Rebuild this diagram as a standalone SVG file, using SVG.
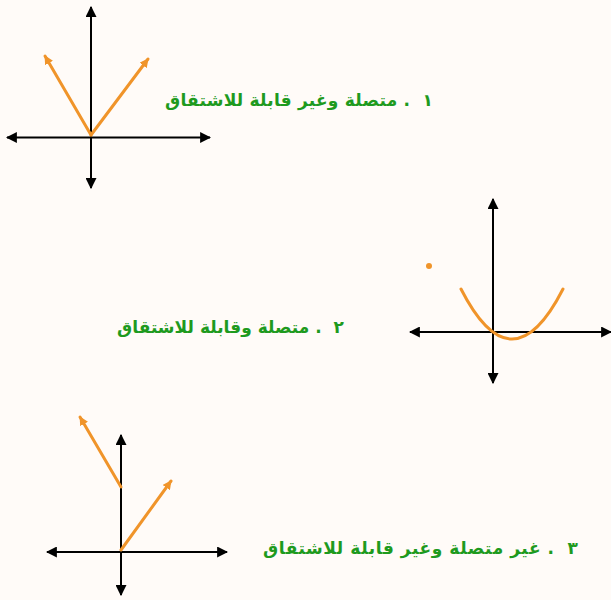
<svg xmlns="http://www.w3.org/2000/svg" width="611" height="600" viewBox="0 0 611 600">
<defs>
<marker id="ah" viewBox="0 0 10 10" refX="9" refY="5" markerWidth="5.5" markerHeight="5.5" orient="auto-start-reverse" markerUnits="strokeWidth">
<path d="M0,0 L10,5 L0,10 z" fill="#000"/>
</marker>
<marker id="oh" viewBox="0 0 10 10" refX="9" refY="5" markerWidth="3" markerHeight="3" orient="auto" markerUnits="strokeWidth">
<path d="M0,0 L10,5 L0,10 z" fill="#F0942A"/>
</marker>
<style>
.ax{stroke:#000;stroke-width:2;fill:none;marker-start:url(#ah);marker-end:url(#ah)}
.cv{stroke:#F0942A;stroke-width:3;fill:none;stroke-linecap:round}
.ar{marker-end:url(#oh)}
.lb{font-family:"DejaVu Sans",sans-serif;font-weight:bold;font-size:17px;fill:#1E9A1E;direction:rtl;unicode-bidi:embed;text-anchor:start;white-space:pre}
</style>
</defs>
<rect width="611" height="600" fill="#FFFBF8"/>
<g id="graph1">
<line class="ax" x1="91" y1="7" x2="91" y2="188"/>
<line class="ax" x1="7" y1="137.5" x2="210" y2="137.5"/>
<line class="cv ar" x1="91" y1="135" x2="45" y2="56"/>
<line class="cv ar" x1="91" y1="135" x2="148" y2="59"/>
</g>
<g id="label1"><text class="lb" x="433" y="106" textLength="268" lengthAdjust="spacing">١  . متصلة وغير قابلة للاشتقاق</text></g>
<g id="graph2">
<line class="ax" x1="493" y1="199" x2="493" y2="383"/>
<line class="ax" x1="410" y1="332" x2="611" y2="332"/>
<path class="cv" d="M461,289 Q512,389 563,289"/>
<circle cx="429" cy="266" r="3" fill="#F0942A"/>
</g>
<g id="label2"><text class="lb" x="344" y="333" textLength="227" lengthAdjust="spacing">٢  . متصلة وقابلة للاشتقاق</text></g>
<g id="graph3">
<line class="ax" x1="121" y1="435" x2="121" y2="595"/>
<line class="ax" x1="47" y1="552" x2="227" y2="552"/>
<line class="cv ar" x1="121" y1="487" x2="80" y2="417"/>
<line class="cv ar" x1="121" y1="550" x2="171" y2="481"/>
</g>
<g id="label3"><text class="lb" x="578" y="554" textLength="315" lengthAdjust="spacing">٣  . غير متصلة وغير قابلة للاشتقاق</text></g>
</svg>
